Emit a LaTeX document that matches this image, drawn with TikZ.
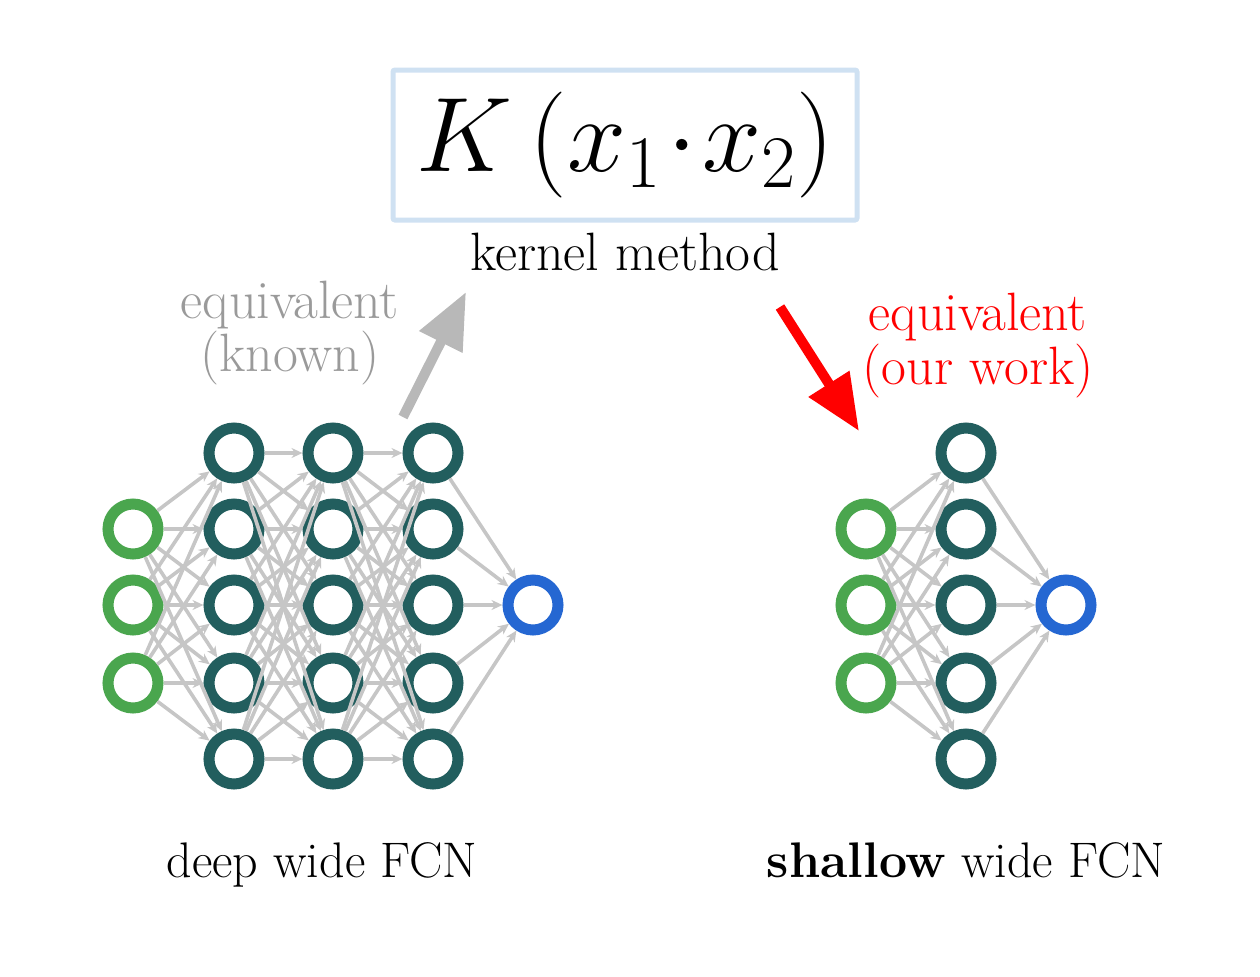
\RequirePackage{fix-cm}
\documentclass[tikz,border=0pt]{standalone}
\usetikzlibrary{arrows.meta}
\definecolor{ingreen}{HTML}{4AA64E}
\definecolor{hidteal}{HTML}{225E5E}
\definecolor{outblue}{HTML}{2567D2}
\definecolor{edgegray}{HTML}{C6C6C6}
\definecolor{arrgray}{HTML}{B8B8B8}
\definecolor{txtgray}{HTML}{9A9A9A}
\definecolor{boxblue}{HTML}{CFE1F2}
\begin{document}
\begin{tikzpicture}[x=0.5pt,y=-0.5pt,
  neuron/.style={circle, line width=5.5pt, minimum size=25pt, inner sep=0pt, fill=white},
  inp/.style={neuron, draw=ingreen},
  hid/.style={neuron, draw=hidteal},
  outn/.style={neuron, draw=outblue},
  edge/.style={draw=edgegray, line width=1.8pt, -{Stealth[length=5.5pt,width=5pt]}},
  bigarrow/.style={line width=5pt, -{Triangle[length=28pt,width=23pt]}},
  lbl/.style={font=\fontsize{27}{32}\selectfont, anchor=base},
  btm/.style={font=\fontsize{25}{30}\selectfont, anchor=base}
]
\useasboundingbox (0,0) rectangle (1260,976);

% formula box
\node[draw=boxblue, line width=2.5pt, rounded corners=1pt, minimum width=232pt, minimum height=75pt, inner sep=0pt]
  (kbox) at (625,145) {\fontsize{53}{62}\selectfont $K\,(x_1\!\cdot\! x_2)$};
\node[lbl] (kl) at (625,270) {kernel method};

% deep network
\foreach \i/\y in {1/529,2/605,3/683} \node[inp] (a\i) at (133,\y) {};
\foreach \l/\x in {1/234,2/333,3/433}
  \foreach \i/\y in {1/453,2/529,3/605,4/683,5/759}
    \node[hid] (h\l-\i) at (\x,\y) {};
\node[outn] (o) at (533,605) {};
\foreach \i in {1,2,3} \foreach \j in {1,...,5} \draw[edge] (a\i) -- (h1-\j);
\foreach \l/\m in {1/2,2/3} \foreach \i in {1,...,5} \foreach \j in {1,...,5} \draw[edge] (h\l-\i) -- (h\m-\j);
\foreach \i in {1,...,5} \draw[edge] (h3-\i) -- (o);

% shallow network
\foreach \i/\y in {1/529,2/605,3/683} \node[inp] (sa\i) at (866,\y) {};
\foreach \i/\y in {1/453,2/529,3/605,4/683,5/759} \node[hid] (sh\i) at (966,\y) {};
\node[outn] (so) at (1066,605) {};
\foreach \i in {1,2,3} \foreach \j in {1,...,5} \draw[edge] (sa\i) -- (sh\j);
\foreach \i in {1,...,5} \draw[edge] (sh\i) -- (so);

% arrows
\coordinate (gt) at (403,417);
\coordinate (gh) at (466,292);
\draw[bigarrow, arrgray] (gt) -- (gh);
\coordinate (rt) at (780,307);
\coordinate (rh) at (859,431);
\draw[bigarrow, red] (rt) -- (rh);

% labels
\node[lbl, text=txtgray] (gk1) at (290,318) {equivalent};
\node[lbl, text=txtgray] (gk2) at (290,371) {(known)};
\node[lbl, text=red] (rk1) at (978,330) {equivalent};
\node[lbl, text=red] (rk2) at (978,384) {(our work)};
\node[btm] (dl) at (322,877) {deep wide FCN};
\node[btm] (sl) at (966,877) {\textbf{shallow} wide FCN};
\end{tikzpicture}
\end{document}
